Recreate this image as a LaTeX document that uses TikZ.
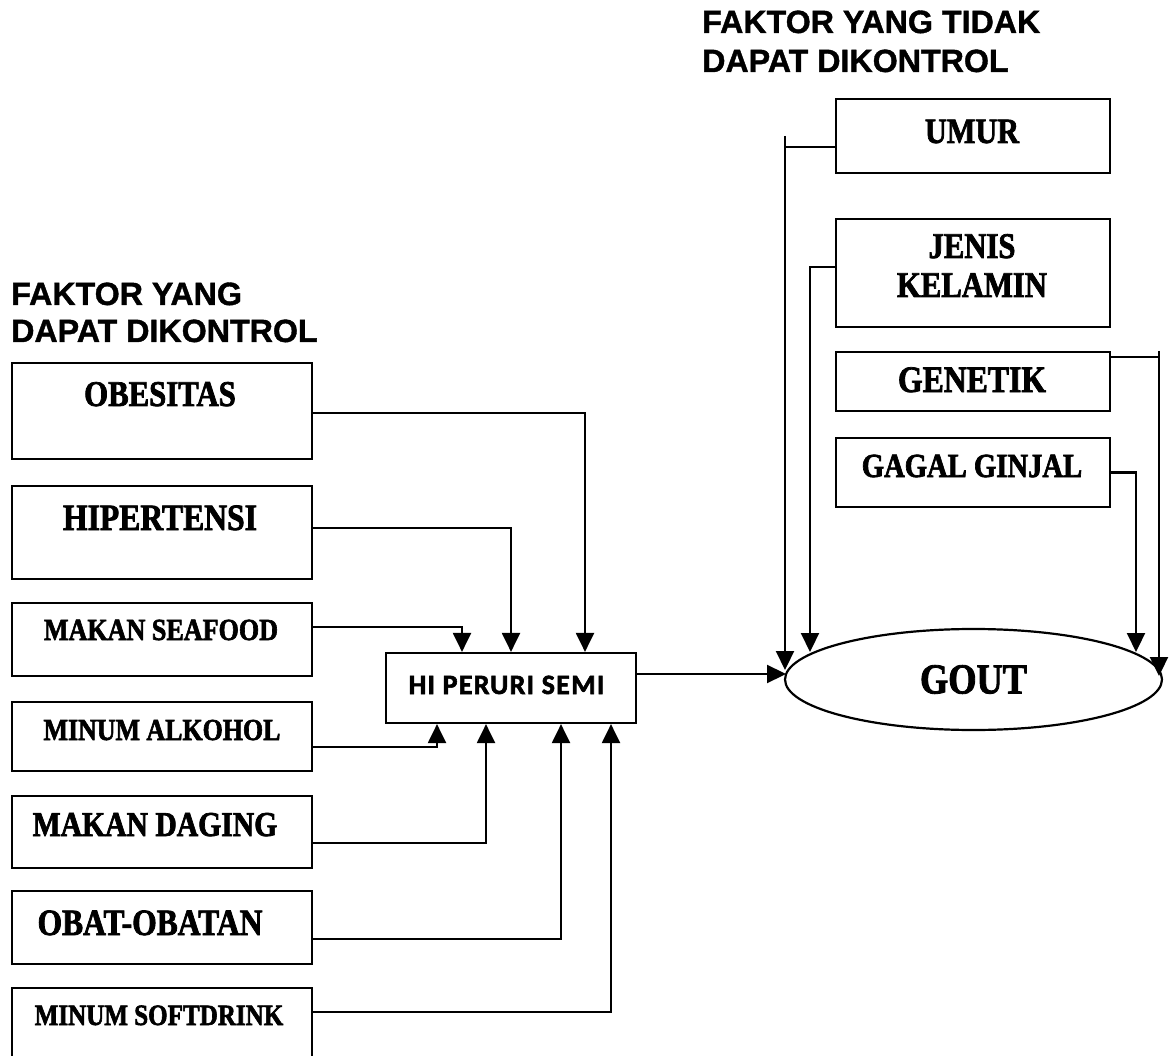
\documentclass[tikz,border=0pt]{standalone}
\usepackage{fontspec}
\usetikzlibrary{arrows.meta,shapes.geometric}
\newfontfamily\titlefont[BoldFeatures={FakeBold=1.2}]{Liberation Sans}
\newfontfamily\boxfont[FakeStretch=0.85,BoldFeatures={FakeBold=2}]{Liberation Serif}
\newfontfamily\hiperfont[LetterSpace=4.5,BoldFeatures={FakeBold=2}]{Carlito}
\newcommand\bxf[1]{\boxfont\bfseries\fontsize{#1}{#1}\selectfont}
\begin{document}
\begin{tikzpicture}[x=1pt,y=-1pt,
  box/.style={draw, line width=2.2pt, inner sep=0pt, minimum width=300pt},
  rbox/.style={draw, line width=2.2pt, inner sep=0pt, minimum width=274pt},
  txt/.style={anchor=base, inner sep=0pt},
  ttl/.style={anchor=base west, inner sep=0pt, font=\titlefont\bfseries\fontsize{32.2}{38}\selectfont},
  conn/.style={line width=2.2pt, -{Triangle[length=19pt,width=18pt]}},
  plain/.style={line width=2.2pt}]
\useasboundingbox (0,0) rectangle (1170,1056);
\fill[white] (0,0) rectangle (1170,1056);

% titles
\node[ttl] (t1a) at (702,33) {FAKTOR YANG TIDAK};
\node[ttl] (t1b) at (702,72) {DAPAT DIKONTROL};
\node[ttl] (t2a) at (11,305) {FAKTOR YANG};
\node[ttl] (t2b) at (11,342) {DAPAT DIKONTROL};

% left boxes
\node[box, minimum height=96pt] (obes) at (162,411) {};
\node[box, minimum height=93pt] (hipert) at (162,532.5) {};
\node[box, minimum height=73pt] (seafood) at (162,639.5) {};
\node[box, minimum height=69pt] (alkohol) at (162,736.5) {};
\node[box, minimum height=72pt] (daging) at (162,832) {};
\node[box, minimum height=73pt] (obat) at (162,927.5) {};
\node[box, minimum height=87pt] (soft) at (162,1031.5) {};

\node[txt, font=\bxf{36.2}] (obesT) at (160,406) {OBESITAS};
\node[txt, font=\bxf{37.2}] (hipertT) at (160,530) {HIPERTENSI};
\node[txt, font=\bxf{30.7}] (seafoodT) at (161,640) {MAKAN SEAFOOD};
\node[txt, font=\bxf{30.5}] (alkoholT) at (162,740) {MINUM\ ALKOHOL};
\node[txt, font=\bxf{34.9}] (dagingT) at (155,836) {MAKAN DAGING};
\node[txt, font=\bxf{37.1}] (obatT) at (150,935) {OBAT-OBATAN};
\node[txt, font=\bxf{29.5}] (softT) at (159,1025) {MINUM SOFTDRINK};

% central box
\node[draw, line width=2.2pt, inner sep=0pt, minimum width=250pt, minimum height=70pt] (hiper) at (511,688) {};
\node[txt, font=\hiperfont\bfseries\fontsize{28}{28}\selectfont] (hiperT) at (506.5,694) {HI PERURI SEMI};

% right boxes
\node[rbox, minimum height=74pt] (umur) at (973,136) {};
\node[rbox, minimum height=108pt] (jenis) at (973,273) {};
\node[rbox, minimum height=59pt] (genetik) at (973,381.5) {};
\node[rbox, minimum height=69pt] (gagal) at (973,472.5) {};

\node[txt, font=\bxf{35.6}] (umurT) at (972,143) {UMUR};
\node[txt, font=\bxf{36.1}] (jenisT) at (972,258) {JENIS};
\node[txt, font=\bxf{36.1}] (kelaminT) at (972,297) {KELAMIN};
\node[txt, font=\bxf{37.3}] (genetikT) at (972,392) {GENETIK};
\node[txt, font=\bxf{33.7}] (gagalT) at (972,477) {GAGAL GINJAL};

% GOUT
\node[draw, ellipse, line width=2.2pt, inner sep=0pt, minimum width=377pt, minimum height=101pt, font=\bxf{42.7}] (gout) at (973.5,679.5) {GOUT};

% tip coordinates on GOUT
\coordinate (gin) at (786,674);
\coordinate (uTip) at (785,670);
\coordinate (jTip) at (810,652);
\coordinate (kTip) at (1136,652);
\coordinate (gTip) at (1159,676);

% left connectors
\draw[conn] ([yshift=-2pt]obes.east) -| ([xshift=74pt]hiper.north);
\draw[conn] ([yshift=4.5pt]hipert.east) -| (hiper.north);
\draw[conn] ([yshift=12.5pt]seafood.east) -| ([xshift=-49pt]hiper.north);
\draw[conn] ([yshift=-10.5pt]alkohol.east) -| ([xshift=-74pt]hiper.south);
\draw[conn] ([yshift=-11pt]daging.east) -| ([xshift=-25pt]hiper.south);
\draw[conn] ([yshift=-11.5pt]obat.east) -| ([xshift=50pt]hiper.south);
\draw[conn] ([yshift=19.5pt]soft.east) -| ([xshift=100pt]hiper.south);

% to GOUT
\draw[conn] ([yshift=14pt]hiper.east) -- (gin);

% right connectors
\draw[conn] ([yshift=-11pt]umur.west) -| (uTip);
\draw[plain] (uTip |- umur.west) -- ++(0,11);
\draw[conn] ([yshift=6pt]jenis.west) -| (jTip);
\draw[conn] ([yshift=24.5pt]genetik.east) -| (gTip);
\draw[plain] (gTip |- genetik.north) -- ++(0,5);
\draw[conn] (gagal.east) -| (kTip);
\end{tikzpicture}
\end{document}
